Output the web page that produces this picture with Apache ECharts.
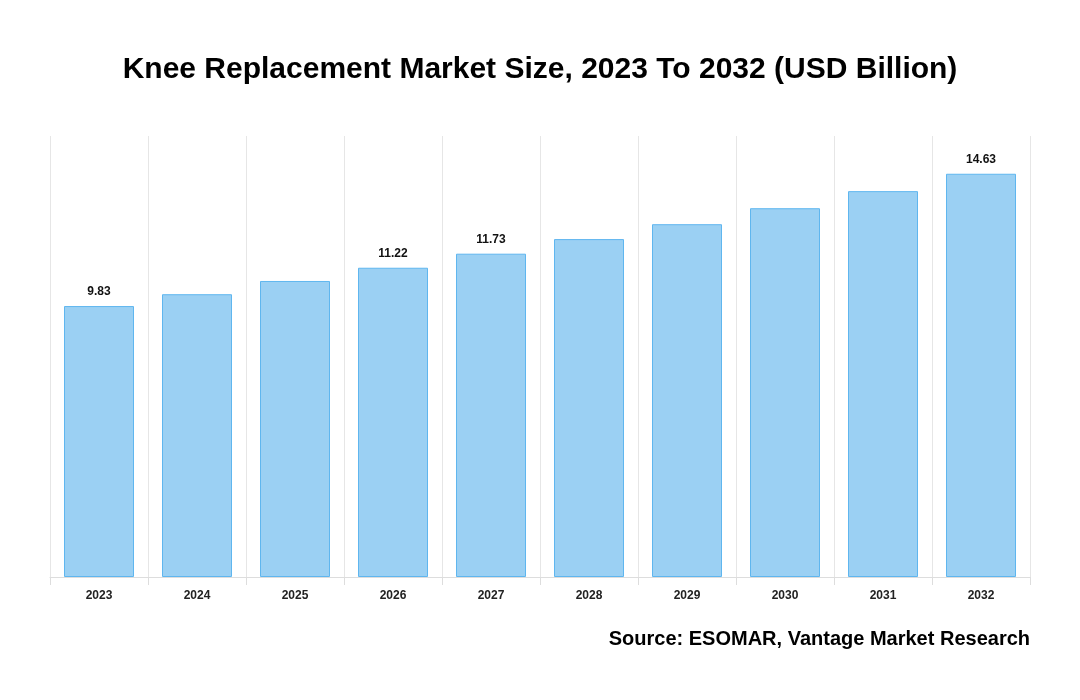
<!DOCTYPE html>
<html><head><meta charset="utf-8">
<script src="https://cdn.jsdelivr.net/npm/echarts@6/dist/echarts.min.js"></script>
<style>html,body{margin:0;padding:0;background:#fff}#c{width:1080px;height:700px}</style>
</head><body><div id="c"></div>
<script>
const categories = ['2023','2024','2025','2026','2027','2028','2029','2030','2031','2032'];
const values = [9.83, 10.26, 10.74, 11.22, 11.73, 12.26, 12.80, 13.38, 14.00, 14.63];
const labeledYears = ['2023','2026','2027','2032'];
const titleText = 'Knee Replacement Market Size, 2023 To 2032 (USD Billion)';
const sourceText = 'Source: ESOMAR, Vantage Market Research';

const chart = echarts.init(document.getElementById('c'), null, {renderer:'canvas'});
chart.setOption({
  animation:false,
  backgroundColor:'#fff',
  title:[{text:titleText,left:'center',top:50,textStyle:{fontFamily:'Liberation Sans, Arial',fontWeight:'bold',fontSize:30,color:'#000'}},
         {text:sourceText,right:45,top:624,textStyle:{fontFamily:'Liberation Sans, Arial',fontWeight:'bold',fontSize:20,color:'#000'}}],
  grid:{left:50,right:50,top:136,bottom:123,containLabel:false},
  xAxis:{type:'category',data:categories,boundaryGap:true,
    axisLine:{show:true,lineStyle:{color:'#dddddd'}},
    axisTick:{show:true,alignWithLabel:false,length:8,lineStyle:{color:'#dddddd'}},
    splitLine:{show:true,lineStyle:{color:'#e6e6e6'}},
    axisLabel:{fontFamily:'Liberation Sans, Arial',fontWeight:'bold',fontSize:12,color:'#222',margin:13}},
  yAxis:{type:'value',min:0,max:16,show:false,splitLine:{show:false}},
  series:[{type:'bar',barWidth:70,
    data:values.map((v,i)=>({value:v,label:{show:labeledYears.includes(categories[i])}})),
    itemStyle:{color:'#9bd0f3',borderColor:'#5fb6ef',borderWidth:1},
    label:{position:'top',distance:8,formatter:p=>p.value.toFixed(2),fontFamily:'Liberation Sans, Arial',fontWeight:'bold',fontSize:12,color:'#111'}}]
});
</script></body></html>
